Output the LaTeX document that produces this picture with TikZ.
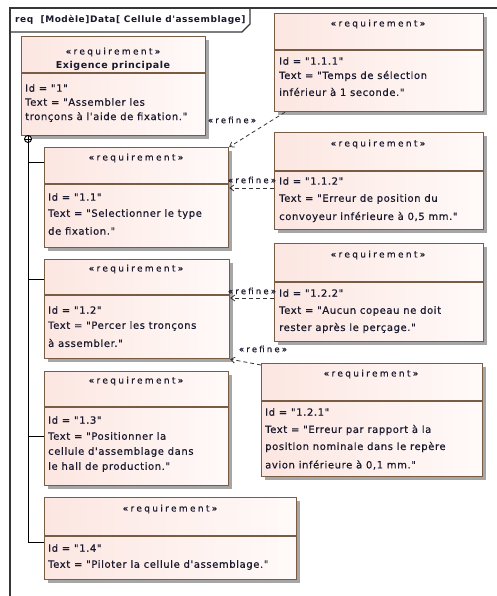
\documentclass[tikz,border=0pt]{standalone}
\usepackage{fontspec}
\setmainfont{DejaVu Sans}
\newfontfamily\bodyf{DejaVu Sans}[LetterSpace=6, FakeBold=0.4]
\newfontfamily\stf{DejaVu Sans}[LetterSpace=26, FakeBold=0.3]
\newfontfamily\boldf{DejaVu Sans Bold}[LetterSpace=6]
\usetikzlibrary{shadows,arrows.meta}
\definecolor{frameC}{RGB}{55,55,55}
\definecolor{boxB}{RGB}{120,92,68}
\definecolor{pinkA}{RGB}{252,230,225}
\definecolor{pinkB}{RGB}{255,250,249}
\definecolor{txtC}{RGB}{25,25,45}
\tikzset{
  reqbox/.style={draw=boxB, line width=1.2pt, left color=pinkA, right color=pinkB,
    drop shadow={shadow xshift=3pt, shadow yshift=-3pt, fill=black!35, opacity=1},
    anchor=north west, inner sep=0pt},
  sepline/.style={draw=boxB, line width=1.2pt},
  stereo/.style={font=\stf\fontsize{9}{10}\selectfont, text=txtC, inner sep=0pt},
  titletxt/.style={font=\boldf\fontsize{9.5}{11}\selectfont, text=txtC, inner sep=0pt},
  bodytxt/.style={font=\bodyf\fontsize{10}{12}\selectfont, text=txtC, anchor=west, inner sep=0pt},
  refine/.style={draw=black!80, dashed, dash pattern=on 4pt off 3pt, line width=0.8pt,
    -{Straight Barb[length=4pt,width=6pt]}},
  reflabel/.style={font=\stf\fontsize{8.5}{9}\selectfont, text=txtC, inner sep=0pt},
  contain/.style={draw=black, line width=0.9pt},
}
\newcommand\mkreq[6]{%
  \pgfmathsetmacro\rqw{#4-#2}\pgfmathsetmacro\rqh{#5-#3}%
  \node[reqbox, minimum width=\rqw pt, minimum height=\rqh pt] (#1) at (#2,#3) {};
  \draw[sepline] (#1.west |- 0,#6) -- (#1.east |- 0,#6);
}
\begin{document}
\begin{tikzpicture}[x=1pt,y=-1pt]
\useasboundingbox (0,0) rectangle (497,596);
% frame
\draw[frameC, line width=1.3pt] (10,600) -- (10,8) -- (500,8);
\draw[frameC, line width=1.1pt] (10,32) -- (242,32) -- (250,24) -- (250,8);
\node[anchor=west, font=\boldf\fontsize{9}{10}\selectfont, text=txtC, inner sep=0pt] (title) at (15,20) {req\ \ [Modèle]Data[ Cellule d'assemblage]};

% boxes
\mkreq{b1}{21}{36}{205}{135}{73}
\node[stereo] (b1s) at (113,52) {«requirement»};
\node[titletxt] (b1n) at (113,66) {Exigence principale};
\node[bodytxt] (b1a) at (25,88) {Id = "1"};
\node[bodytxt] (b1b) at (25,102) {Text = "Assembler les};
\node[bodytxt] (b1c) at (25,117) {tronçons à l'aide de fixation."};

\mkreq{b111}{274}{13}{483}{111}{50}
\node[stereo] (b111s) at (378,24) {«requirement»};
\node[bodytxt] (b111a) at (279,61) {Id = "1.1.1"};
\node[bodytxt] (b111b) at (279,76) {Text = "Temps\ de sélection};
\node[bodytxt] (b111c) at (279,92) {inférieur à 1 seconde."};

\mkreq{b11}{44}{147}{228}{247}{184}
\node[stereo] (b11s) at (136,158) {«requirement»};
\node[bodytxt] (b11a) at (48,197) {Id = "1.1"};
\node[bodytxt] (b11b) at (48,214) {Text = "Selectionner le type};
\node[bodytxt] (b11c) at (48,231) {de fixation."};

\mkreq{b112}{274}{132}{483}{229}{171}
\node[stereo] (b112s) at (378,144) {«requirement»};
\node[bodytxt] (b112a) at (279,181) {Id = "1.1.2"};
\node[bodytxt] (b112b) at (279,199) {Text = "Erreur de position du};
\node[bodytxt] (b112c) at (279,217) {convoyeur inférieure à 0,5 mm."};

\mkreq{b12}{44}{259}{229}{358}{295}
\node[stereo] (b12s) at (136,269) {«requirement»};
\node[bodytxt] (b12a) at (48,310) {Id = "1.2"};
\node[bodytxt] (b12b) at (48,326) {Text = "Percer les tronçons};
\node[bodytxt] (b12c) at (48,343) {à assembler."};

\mkreq{b122}{274}{243}{483}{341}{282}
\node[stereo] (b122s) at (378,255) {«requirement»};
\node[bodytxt] (b122a) at (279,293) {Id = "1.2.2"};
\node[bodytxt] (b122b) at (279,311) {Text = "Aucun copeau ne doit};
\node[bodytxt] (b122c) at (279,328) {rester après le perçage."};

\mkreq{b121}{261}{363}{482}{476}{401}
\node[stereo] (b121s) at (371,374) {«requirement»};
\node[bodytxt] (b121a) at (265,412) {Id = "1.2.1"};
\node[bodytxt] (b121b) at (265,430) {Text = "Erreur par rapport à la};
\node[bodytxt] (b121c) at (265,447) {position nominale dans le repère};
\node[bodytxt] (b121d) at (265,465) {avion inférieure à 0,1 mm."};

\mkreq{b13}{44}{371}{228}{485}{407}
\node[stereo] (b13s) at (136,381) {«requirement»};
\node[bodytxt] (b13a) at (48,420) {Id = "1.3"};
\node[bodytxt] (b13b) at (48,436) {Text = "Positionner la};
\node[bodytxt] (b13c) at (48,452) {cellule d'assemblage dans};
\node[bodytxt] (b13d) at (48,467) {le hall de production."};

\mkreq{b14}{44}{497}{296}{579}{536}
\node[stereo] (b14s) at (170,509) {«requirement»};
\node[bodytxt] (b14a) at (48,548) {Id = "1.4"};
\node[bodytxt] (b14b) at (48,565) {Text = "Piloter la cellule d'assemblage."};

% containment
\node[circle, draw=black, line width=0.9pt, fill=white, minimum size=7pt, inner sep=0pt] (cp) at (28,139) {};
\draw[line width=0.8pt] (cp.north) -- (cp.south) (cp.west) -- (cp.east);
\draw[contain] (cp.south) |- (b14.west |- 0,542);
\draw[contain] (cp |- 0,162) -- (b11.west |- 0,162);
\draw[contain] (cp |- 0,279) -- (b12.west |- 0,279);
\draw[contain] (cp |- 0,436) -- (b13.west |- 0,436);

% refine dependencies
\draw[refine] ([xshift=11pt]b111.south west) -- (b11.north east);
\node[reflabel] (r1) at (232,120) {«refine»};
\draw[refine] (b112.west |- 0,188) -- (b11.east |- 0,188);
\node[reflabel] (r2) at (252,180) {«refine»};
\draw[refine] (b122.west |- 0,298) -- (b12.east |- 0,298);
\node[reflabel] (r3) at (252,291) {«refine»};
\draw[refine] ([yshift=-2pt]b121.north west) -- (b12.south east);
\node[reflabel] (r4) at (263,349) {«refine»};
\end{tikzpicture}
\end{document}
